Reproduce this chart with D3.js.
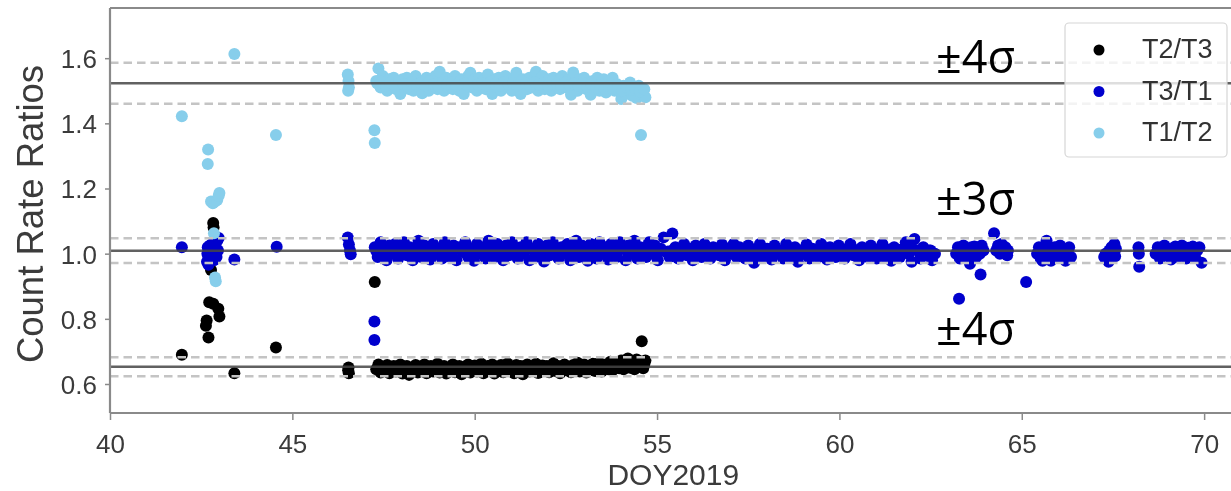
<!DOCTYPE html>
<html>
<head>
<meta charset="utf-8">
<script src="https://cdn.jsdelivr.net/npm/d3@7"></script>
<style>
  html, body { margin: 0; padding: 0; background: #fff; overflow: hidden; }
  svg { display: block; }
</style>
</head>
<body>
<svg id="chart" width="1231" height="491"></svg>
<script>
// ---- Count-rate ratios of the three telescopes, DOY 2019 ----

// Axis ticks
const xTicks = [40, 45, 50, 55, 60, 65, 70];
const yTicks = [0.6, 0.8, 1.0, 1.2, 1.4, 1.6];

// Series names (legend order) and colours
const seriesNames = ["T2/T3", "T3/T1", "T1/T2"];
const seriesColors = ["#000000", "#0000cd", "#87ceeb"];

// Long-term mean of each ratio and its sigma band (T2/T3, T3/T1, T1/T2)
const refMeans = [0.653, 1.009, 1.523];
const refLower = [0.624, 0.971, 1.460];
const refUpper = [0.682, 1.047, 1.586];

// Sigma-band annotations
const bandLabels = ["±4σ", "±3σ", "±4σ"];
const bandLabelValues = [1.555, 1.119, 0.720];

// ---- T2/T3 ----
const t23Scatter = [
  [41.97, 0.690], [42.83, 1.094], [42.84, 1.080], [42.77, 0.950],
  [42.72, 0.851], [42.83, 0.846], [42.97, 0.831], [43.00, 0.807],
  [42.65, 0.795], [42.63, 0.779], [42.70, 0.743], [43.41, 0.633],
  [44.55, 0.712], [46.54, 0.651], [46.55, 0.633], [46.53, 0.642],
  [47.26, 0.913], [54.58, 0.731]
];
const t23RunStart = 47.30, t23RunStep = 0.06;
const t23RunRatio = [
  0.645, 0.660, 0.635, 0.652, 0.640, 0.658, 0.633, 0.648, 0.655, 0.638,
  0.650, 0.660, 0.632, 0.645, 0.655, 0.628, 0.648, 0.640, 0.658, 0.635,
  0.652, 0.642, 0.660, 0.633, 0.647, 0.655, 0.638, 0.650, 0.662, 0.635,
  0.645, 0.655, 0.632, 0.650, 0.640, 0.660, 0.636, 0.648, 0.655, 0.630,
  0.652, 0.643, 0.660, 0.635, 0.650, 0.657, 0.638, 0.647, 0.662, 0.633,
  0.648, 0.655, 0.640, 0.660, 0.632, 0.650, 0.645, 0.658, 0.636, 0.652,
  0.663, 0.640, 0.650, 0.633, 0.658, 0.645, 0.655, 0.630, 0.650, 0.660,
  0.638, 0.652, 0.645, 0.662, 0.634, 0.650, 0.657, 0.640, 0.655, 0.636,
  0.650, 0.664, 0.640, 0.655, 0.633, 0.648, 0.660, 0.642, 0.652, 0.636,
  0.658, 0.645, 0.665, 0.638, 0.650, 0.660, 0.635, 0.655, 0.647, 0.662,
  0.640, 0.655, 0.665, 0.638, 0.652, 0.660, 0.645, 0.668, 0.642, 0.656,
  0.665, 0.648, 0.672, 0.645, 0.660, 0.678, 0.650, 0.665, 0.645, 0.675,
  0.655, 0.668, 0.648, 0.672
];
const t23CoreStart = 47.33, t23CoreStep = 0.12;
const t23CoreRatio = [
  0.646, 0.650, 0.642, 0.648, 0.644, 0.652, 0.645, 0.640, 0.649, 0.646,
  0.651, 0.643, 0.648, 0.645, 0.650, 0.641, 0.647, 0.652, 0.644, 0.649,
  0.646, 0.642, 0.650, 0.645, 0.648, 0.643, 0.651, 0.646, 0.644, 0.649,
  0.647, 0.652, 0.643, 0.648, 0.645, 0.650, 0.642, 0.647, 0.651, 0.645,
  0.649, 0.644, 0.652, 0.647, 0.650, 0.645, 0.653, 0.648, 0.655, 0.650,
  0.654, 0.648, 0.656, 0.652, 0.658, 0.653, 0.660, 0.655, 0.662, 0.657,
  0.663, 0.660
];

// ---- T3/T1 ----
const t31Scatter = [
  [41.97, 1.020],
  [42.66, 0.975], [42.67, 1.000], [42.68, 1.020], [42.70, 0.990], [42.72, 1.010],
  [42.74, 1.025], [42.76, 0.985], [42.78, 1.005], [42.80, 1.030], [42.82, 0.995],
  [42.84, 1.015], [42.86, 1.035], [42.88, 1.000], [42.90, 1.020], [42.92, 0.990],
  [42.94, 1.040], [42.96, 1.010], [42.98, 1.048], [42.70, 0.966], [42.85, 0.980],
  [43.41, 0.982], [44.57, 1.021],
  [46.52, 1.050], [46.55, 1.028], [46.58, 1.010], [46.60, 0.998],
  [47.25, 0.792], [47.25, 0.735],
  [63.28, 0.862], [63.87, 0.936], [64.24, 1.063], [65.12, 0.913]
];
const t31RunStart = 47.26, t31RunStep = 0.08;
const t31RunRatio = [
  1.020, 0.990, 1.035, 1.005, 0.980, 1.025, 1.000, 1.030, 0.985, 1.015,
  1.035, 0.995, 1.020, 0.980, 1.010, 1.040, 0.990, 1.025, 1.005, 0.982,
  1.030, 1.000, 1.015, 0.985, 1.035, 1.010, 0.990, 1.025, 0.980, 1.020,
  1.005, 1.035, 0.990, 1.015, 0.978, 1.030, 1.000, 1.020, 0.985, 1.040,
  1.010, 0.990, 1.030, 1.005, 0.980, 1.025, 0.995, 1.035, 1.010, 0.985,
  1.020, 1.000, 1.035, 0.980, 1.015, 0.990, 1.030, 1.005, 0.976, 1.025,
  0.995, 1.035, 1.010, 0.985, 1.020, 1.000, 1.030, 0.980, 1.015, 1.040,
  0.990, 1.025, 1.005, 0.978, 1.030, 1.010, 0.985, 1.035, 1.000, 1.020,
  0.982, 1.030, 1.005, 0.990, 1.035, 1.015, 0.980, 1.025, 1.000, 1.040,
  0.985, 1.020, 1.010, 0.990, 1.035, 1.000, 1.025, 0.980, 1.015, 1.050,
  1.005, 0.990, 1.062, 1.020, 0.985, 1.010, 1.030, 0.995, 1.015, 0.980,
  1.025, 1.000, 0.990, 1.030, 1.010, 0.985, 1.020, 1.005, 0.995, 1.028,
  0.980, 1.015, 1.000, 1.030, 0.990, 1.020, 1.005, 0.985, 1.025, 1.010,
  0.972, 1.000, 1.030, 0.990, 1.015, 1.005, 0.982, 1.025, 1.000, 1.010,
  0.985, 1.030, 1.005, 0.990, 1.020, 0.975, 1.010, 1.000, 1.028, 0.985,
  1.015, 1.000, 0.990, 1.030, 1.005, 0.982, 1.020, 1.010, 0.990, 1.025,
  1.000, 0.985, 1.015, 1.030, 0.995, 1.010, 0.980, 1.020, 1.005, 0.990,
  1.025, 1.000, 0.985, 1.015, 1.030, 0.990, 1.010, 0.978, 1.020, 1.000,
  0.990, 1.015, 1.035, 1.000, 0.975, 1.045, 1.010, 0.985, 1.020, 0.995,
  1.010, 0.980, 1.000
];
const t31CoreStart = 47.30, t31CoreStep = 0.16;
const t31CoreRatio = [
  1.008, 1.012, 1.002, 1.015, 1.005, 1.010, 0.998, 1.018, 1.006, 1.012,
  1.000, 1.015, 1.008, 1.003, 1.017, 1.010, 0.999, 1.013, 1.006, 1.016,
  1.004, 1.011, 1.000, 1.014, 1.008, 1.002, 1.016, 1.009, 1.005, 1.012,
  0.998, 1.015, 1.007, 1.011, 1.003, 1.017, 1.006, 1.010, 1.000, 1.013,
  1.008, 1.004, 1.015, 1.009, 0.999, 1.012, 1.006, 1.016, 1.002, 1.010,
  1.007, 1.013, 1.000, 1.009, 1.015, 1.004, 1.011, 0.998, 1.014, 1.006,
  1.010, 1.003, 1.016, 1.008, 1.000, 1.012, 1.005, 1.015, 1.009, 1.002,
  1.013, 1.006, 1.010, 0.999, 1.014, 1.007, 1.011, 1.003, 1.016, 1.008,
  1.001, 1.012, 1.006, 1.015, 1.004, 1.010, 1.008, 0.998, 1.013, 1.005,
  1.011, 1.002, 1.014, 1.007, 1.000, 1.010
];
// Later, patchier coverage after DOY 63
const t31Late = [
  [63.20, 1.000], [63.25, 1.020], [63.30, 0.985], [63.35, 1.010], [63.40, 1.025],
  [63.45, 0.995], [63.50, 1.015], [63.55, 0.980], [63.58, 0.969], [63.62, 1.020],
  [63.66, 1.005], [63.70, 1.022], [63.75, 0.990], [63.80, 1.018], [63.85, 1.000],
  [63.90, 1.025], [63.95, 1.010], [63.40, 1.005], [63.72, 1.003],
  [64.30, 1.010], [64.35, 1.025], [64.40, 1.000], [64.45, 1.030], [64.50, 1.005],
  [64.55, 1.020], [64.60, 0.995], [64.62, 1.010],
  [65.42, 1.000], [65.47, 1.020], [65.52, 0.985], [65.57, 0.978], [65.60, 1.010],
  [65.65, 1.025], [65.68, 1.040], [65.72, 0.995], [65.77, 1.015], [65.80, 0.978],
  [65.85, 1.005], [65.90, 1.020], [65.95, 0.990], [66.00, 1.010], [66.05, 1.025],
  [66.10, 0.995], [66.15, 1.015], [66.20, 0.978], [66.25, 1.005], [66.30, 1.020],
  [66.35, 0.990], [65.62, 1.005], [65.88, 1.008], [66.12, 1.006],
  [67.26, 0.990], [67.30, 1.000], [67.34, 0.985], [67.38, 0.975], [67.40, 1.010],
  [67.44, 1.000], [67.46, 1.020], [67.50, 1.005], [67.54, 1.030], [67.56, 0.992],
  [67.58, 1.015],
  [68.20, 1.020], [68.21, 1.000], [68.22, 0.960],
  [68.67, 1.000], [68.73, 1.020], [68.79, 0.985], [68.85, 1.010], [68.91, 1.025],
  [68.97, 0.995], [69.03, 1.015], [69.09, 0.982], [69.15, 1.005], [69.21, 1.022],
  [69.27, 0.990], [69.33, 1.012], [69.39, 1.025], [69.45, 1.000], [69.51, 0.985],
  [69.57, 1.018], [69.63, 1.005], [69.69, 1.022], [69.75, 0.990], [69.81, 1.010],
  [69.87, 1.020], [69.93, 0.972], [69.00, 1.004], [69.48, 1.008]
];

// ---- T1/T2 ----
const t12Scatter = [
  [41.97, 1.422], [42.69, 1.320], [42.68, 1.275],
  [42.77, 1.160], [42.82, 1.155], [42.88, 1.160], [42.94, 1.165], [42.98, 1.178], [43.00, 1.186],
  [42.85, 1.063], [42.88, 0.927], [42.90, 0.915],
  [43.41, 1.613], [44.55, 1.364],
  [46.52, 1.550], [46.54, 1.530], [46.55, 1.510], [46.53, 1.500],
  [47.25, 1.379], [47.26, 1.340], [54.56, 1.364]
];
const t12RunStart = 47.30, t12RunStep = 0.06;
const t12RunRatio = [
  1.530, 1.568, 1.510, 1.545, 1.520, 1.500, 1.535, 1.515, 1.540, 1.505,
  1.520, 1.490, 1.535, 1.510, 1.540, 1.505, 1.525, 1.500, 1.545, 1.515,
  1.530, 1.492, 1.520, 1.540, 1.500, 1.535, 1.515, 1.545, 1.505, 1.558,
  1.520, 1.500, 1.540, 1.510, 1.530, 1.505, 1.545, 1.520, 1.500, 1.535,
  1.490, 1.525, 1.545, 1.555, 1.510, 1.535, 1.500, 1.540, 1.515, 1.530,
  1.505, 1.550, 1.520, 1.490, 1.535, 1.510, 1.540, 1.500, 1.525, 1.545,
  1.510, 1.530, 1.500, 1.540, 1.555, 1.515, 1.490, 1.535, 1.520, 1.505,
  1.540, 1.510, 1.530, 1.558, 1.500, 1.525, 1.545, 1.505, 1.520, 1.535,
  1.500, 1.540, 1.515, 1.530, 1.505, 1.545, 1.520, 1.510, 1.535, 1.488,
  1.556, 1.520, 1.500, 1.535, 1.510, 1.540, 1.505, 1.525, 1.488, 1.530,
  1.510, 1.540, 1.500, 1.525, 1.535, 1.495, 1.530, 1.515, 1.540, 1.500,
  1.520, 1.500, 1.475, 1.515, 1.490, 1.510, 1.525, 1.485, 1.500, 1.478,
  1.515, 1.490, 1.505, 1.480
];
const t12CoreStart = 47.33, t12CoreStep = 0.12;
const t12CoreRatio = [
  1.522, 1.528, 1.515, 1.525, 1.518, 1.530, 1.520, 1.512, 1.526, 1.519,
  1.524, 1.516, 1.529, 1.521, 1.514, 1.527, 1.520, 1.525, 1.517, 1.530,
  1.522, 1.513, 1.526, 1.519, 1.524, 1.516, 1.528, 1.521, 1.515, 1.527,
  1.520, 1.524, 1.517, 1.529, 1.522, 1.514, 1.526, 1.519, 1.523, 1.516,
  1.528, 1.520, 1.513, 1.525, 1.518, 1.522, 1.515, 1.524, 1.512, 1.519,
  1.510, 1.517, 1.505, 1.514, 1.508, 1.512, 1.500, 1.510, 1.503, 1.508,
  1.498, 1.505
];

// ---- layout ----
const plot = { left: 110, top: 8, right: 1240.6, bottom: 413 };
const dotRadius = 6;

const svg = d3.select("#chart");

const x = d3.scaleLinear().domain([40, 71]).range([plot.left, plot.right]);
const y = d3.scaleLinear().domain([0.511, 1.754]).range([plot.bottom, plot.top]);

const runPoints = (start, step, ratios) => ratios.map((r, i) => [start + i * step, r]);

const seriesPoints = [
  t23Scatter.concat(
    runPoints(t23RunStart, t23RunStep, t23RunRatio),
    runPoints(t23CoreStart, t23CoreStep, t23CoreRatio)),
  t31Scatter.concat(
    runPoints(t31RunStart, t31RunStep, t31RunRatio),
    runPoints(t31CoreStart, t31CoreStep, t31CoreRatio),
    t31Late),
  t12Scatter.concat(
    runPoints(t12RunStart, t12RunStep, t12RunRatio),
    runPoints(t12CoreStart, t12CoreStep, t12CoreRatio))
];

// slight softening of the plotted figure
const defs = svg.append("defs");
defs.append("filter").attr("id", "soft")
  .attr("x", "-5%").attr("y", "-5%").attr("width", "110%").attr("height", "110%")
  .append("feGaussianBlur").attr("stdDeviation", 0.6);
defs.append("clipPath").attr("id", "plotClip")
  .append("rect")
  .attr("x", plot.left).attr("y", plot.top)
  .attr("width", plot.right - plot.left).attr("height", plot.bottom - plot.top);

const fig = svg.append("g").attr("filter", "url(#soft)");

// scatter points, one layer per series in legend order
const pointLayer = fig.append("g").attr("clip-path", "url(#plotClip)");
seriesPoints.forEach((pts, k) => {
  pointLayer.append("g")
    .selectAll("circle")
    .data(pts)
    .join("circle")
    .attr("cx", d => x(d[0]))
    .attr("cy", d => y(d[1]))
    .attr("r", dotRadius)
    .attr("fill", seriesColors[k]);
});

// reference lines: mean (solid) and sigma limits (dashed)
const refLayer = fig.append("g").attr("clip-path", "url(#plotClip)");
const dashed = refLower.concat(refUpper);
refLayer.selectAll("line.limit")
  .data(dashed)
  .join("line")
  .attr("class", "limit")
  .attr("x1", plot.left).attr("x2", plot.right)
  .attr("y1", d => y(d)).attr("y2", d => y(d))
  .attr("stroke", "#c4c4c4")
  .attr("stroke-width", 2.5)
  .attr("stroke-dasharray", "8.5,5");
refLayer.selectAll("line.mean")
  .data(refMeans)
  .join("line")
  .attr("class", "mean")
  .attr("x1", plot.left).attr("x2", plot.right)
  .attr("y1", d => y(d)).attr("y2", d => y(d))
  .attr("stroke", "#454545")
  .attr("stroke-opacity", 0.85)
  .attr("stroke-width", 2.5);

// axes
const xAxis = d3.axisBottom(x).tickValues(xTicks).tickSize(7).tickPadding(8).tickFormat(d3.format("d"));
const yAxis = d3.axisLeft(y).tickValues(yTicks).tickSize(5).tickPadding(8).tickFormat(d3.format(".1f"));

const gx = fig.append("g").attr("transform", `translate(0,${plot.bottom})`).call(xAxis);
const gy = fig.append("g").attr("transform", `translate(${plot.left},0)`).call(yAxis);
[gx, gy].forEach(g => {
  g.select(".domain").remove();
  g.selectAll(".tick line").attr("stroke", "#8a8a8a").attr("stroke-width", 1.5);
  g.selectAll(".tick text")
    .attr("fill", "#3a3a3a")
    .style("font-family", "'Liberation Sans', Arial, sans-serif")
    .style("font-size", "26px");
});
gx.selectAll(".tick text").attr("dy", "0.95em");
gy.selectAll(".tick text").attr("dy", "0.36em");

// frame
const frame = fig.append("g")
  .attr("fill", "none")
  .attr("stroke", "#8a8a8a")
  .attr("stroke-width", 2.2);
frame.append("line").attr("x1", plot.left).attr("x2", plot.left).attr("y1", plot.top).attr("y2", plot.bottom);
frame.append("line").attr("x1", plot.left).attr("x2", plot.right).attr("y1", plot.top).attr("y2", plot.top);
frame.append("line").attr("x1", plot.left).attr("x2", plot.right).attr("y1", plot.bottom).attr("y2", plot.bottom);
frame.append("line").attr("x1", plot.right).attr("x2", plot.right).attr("y1", plot.top).attr("y2", plot.bottom);

// axis titles
fig.append("text")
  .attr("x", (plot.left + plot.right) / 2 - 2)
  .attr("y", 485)
  .attr("text-anchor", "middle")
  .attr("fill", "#3a3a3a")
  .style("font-family", "'Liberation Sans', Arial, sans-serif")
  .style("font-size", "30px")
  .text("DOY2019");

fig.append("text")
  .attr("transform", "translate(43,214) rotate(-90)")
  .attr("text-anchor", "middle")
  .attr("fill", "#3a3a3a")
  .style("font-family", "'Liberation Sans', Arial, sans-serif")
  .style("font-size", "36.5px")
  .text("Count Rate Ratios");

// legend
const legend = fig.append("g");
legend.append("rect")
  .attr("x", 1065).attr("y", 23)
  .attr("width", 162).attr("height", 134)
  .attr("rx", 4)
  .attr("fill", "#ffffff").attr("fill-opacity", 0.8)
  .attr("stroke", "#d6d6d6").attr("stroke-width", 1.2);
const legendRow = d3.scalePoint().domain(seriesNames).range([50, 133]);
const rows = legend.selectAll("g.row")
  .data(seriesNames)
  .join("g")
  .attr("class", "row")
  .attr("transform", d => `translate(0,${legendRow(d)})`);
rows.append("circle")
  .attr("cx", 1099).attr("cy", 0).attr("r", 5.5)
  .attr("fill", (d, i) => seriesColors[i]);
rows.append("text")
  .attr("x", 1142).attr("y", 0).attr("dy", "0.3em")
  .attr("fill", "#333")
  .style("font-family", "'Liberation Sans', Arial, sans-serif")
  .style("font-size", "27px")
  .text(d => d);

// sigma band annotations (crisp, on top)
svg.append("g")
  .selectAll("text")
  .data(bandLabels)
  .join("text")
  .attr("x", 936)
  .attr("y", (d, i) => y(bandLabelValues[i]))
  .attr("fill", "#000")
  .style("font-family", "'Open Sans', 'DejaVu Sans', sans-serif")
  .style("font-size", "45px")
  .text(d => d);
</script>
</body>
</html>
